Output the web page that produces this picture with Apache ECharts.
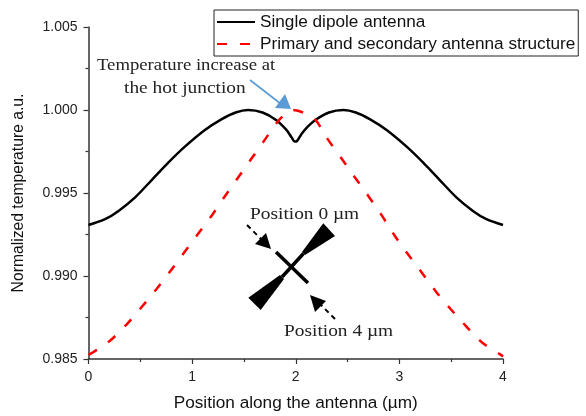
<!DOCTYPE html>
<html><head><meta charset="utf-8">
<script src="https://cdn.jsdelivr.net/npm/echarts@6/dist/echarts.min.js"></script>
<style>html,body{margin:0;padding:0;background:#fff}#c{width:586px;height:416px}</style>
</head><body><div id="c"></div>
<script>
const singleDipole = [[0,0.99307],[0.16,0.99342],[0.29,0.99392],[0.45,0.99474],[0.61,0.99578],[0.77,0.99683],[0.93,0.99779],[1.12,0.99878],[1.286,0.99945],[1.42,0.99985],[1.54,1.0],[1.68,0.99985],[1.81,0.9994],[1.91,0.9988],[1.96,0.99835],[1.99,0.9981],[2.01,0.99812],[2.05,0.9985],[2.1,0.9989],[2.19,0.9994],[2.32,0.99985],[2.46,1.0],[2.58,0.99985],[2.714,0.99945],[2.88,0.99878],[3.07,0.99779],[3.23,0.99683],[3.39,0.99578],[3.55,0.99474],[3.71,0.99392],[3.84,0.99342],[4,0.99307]];
const primarySecondary = [[0,0.98525],[0.037,0.98538],[0.207,0.9861],[0.369,0.98709],[0.513,0.98813],[0.655,0.9892],[0.793,0.99032],[0.925,0.99143],[1.054,0.99251],[1.19,0.99365],[1.318,0.99482],[1.446,0.99595],[1.575,0.99709],[1.704,0.99823],[1.839,0.9994],[1.92,0.99985],[1.97,1.0],[2.07,0.99985],[2.19,0.9994],[2.31,0.99823],[2.44,0.99709],[2.57,0.99595],[2.7,0.99482],[2.83,0.99365],[2.965,0.99233],[3.094,0.99122],[3.226,0.99012],[3.354,0.98905],[3.496,0.988],[3.641,0.98699],[3.795,0.98601],[3.972,0.98528],[4,0.98515]];
const seriesNames = ['Single dipole antenna','Primary and secondary antenna structure'];
const chart = echarts.init(document.getElementById('c'),null,{renderer:'canvas'});
const serif='"Liberation Serif","Times New Roman",serif', sans='"Liberation Sans",Arial,sans-serif';
const axisCommon={axisLine:{show:true,onZero:false,lineStyle:{color:'#333',width:1.5}},
 axisTick:{show:true,inside:false,length:5,lineStyle:{color:'#333',width:1.2}},
 minorTick:{show:true,splitNumber:2,length:3,lineStyle:{color:'#333',width:1.2}},
 splitLine:{show:false},minorSplitLine:{show:false},nameLocation:'middle',
 axisLabel:{fontFamily:sans,fontSize:14,color:'#222'}};
const txt=(x,y,t,sx)=>({type:'text',x,y,z:20,scaleX:sx||1.14,style:{text:t,font:'17px '+serif,fill:'#222',textAlign:'left',textVerticalAlign:'middle'}});
const poly=(p,fill)=>({type:'polygon',z:20,shape:{points:p},style:{fill}});
const line=(a,b,st)=>({type:'line',z:20,shape:{x1:a[0],y1:a[1],x2:b[0],y2:b[1]},style:st});
chart.setOption({animation:false,backgroundColor:'#fff',
 grid:{left:88.5,right:83,top:27,bottom:57,outerBoundsMode:'none'},
 legend:{show:true,left:214,top:10,orient:'vertical',padding:[3,3,3,2],itemGap:4,itemWidth:38,itemHeight:14,
  backgroundColor:'#fff',borderColor:'#222',borderWidth:1,borderRadius:0,
  itemStyle:{opacity:0},
  textStyle:{fontFamily:sans,fontSize:17.2,color:'#111',lineHeight:18},
  data:seriesNames},
 xAxis:Object.assign({},axisCommon,{type:'value',min:0,max:4,interval:1,name:'Position along the antenna (µm)',nameGap:36,
  nameTextStyle:{fontFamily:sans,fontSize:17.2,color:'#111'},axisLabel:Object.assign({},axisCommon.axisLabel,{margin:11})}),
 yAxis:Object.assign({},axisCommon,{type:'value',min:0.985,max:1.005,interval:0.005,name:'Normalized temperature a.u.',nameGap:62,
  nameTextStyle:{fontFamily:sans,fontSize:15.7,color:'#111'},
  axisLabel:Object.assign({},axisCommon.axisLabel,{margin:11,formatter:v=>v.toFixed(3)})}),
 series:[
  {name:seriesNames[0],type:'line',data:singleDipole,smooth:0.3,showSymbol:false,symbol:'none',clip:false,z:3,itemStyle:{color:'#000'},lineStyle:{color:'#000',width:2.5}},
  {name:seriesNames[1],type:'line',data:primarySecondary,smooth:0.3,showSymbol:false,symbol:'none',clip:false,z:4,itemStyle:{color:'#f00'},lineStyle:{color:'#f00',width:2.5,type:[10,13]}}
 ],
 graphic:[
  txt(97,66,'Temperature increase at',1.1),txt(124,89,'the hot junction'),
  line([250,80],[281,104],{stroke:'#5b9bd5',lineWidth:1.6}),
  poly([[291,109],[275,108],[285,94]],'#5b9bd5'),
  txt(250,215,'Position 0 µm'),txt(284,332,'Position 4 µm'),
  poly([[323.3,223.3],[335,236],[305,255],[302,252]],'#000'),
  poly([[248.3,297.7],[260.7,310],[284,279],[280,275]],'#000'),
  line([303.5,253.5],[282,277],{stroke:'#000',lineWidth:3.5}),
  line([276,252],[308,283],{stroke:'#000',lineWidth:3.5}),
  line([247,225],[262,240],{stroke:'#000',lineWidth:2,lineDash:[5,4]}),
  poly([[271,249],[255,244],[266,233]],'#000'),
  line([335,319],[320,304],{stroke:'#000',lineWidth:2,lineDash:[5,4]}),
  poly([[310,295],[326,301],[315,312]],'#000')
 ]});
</script></body></html>
